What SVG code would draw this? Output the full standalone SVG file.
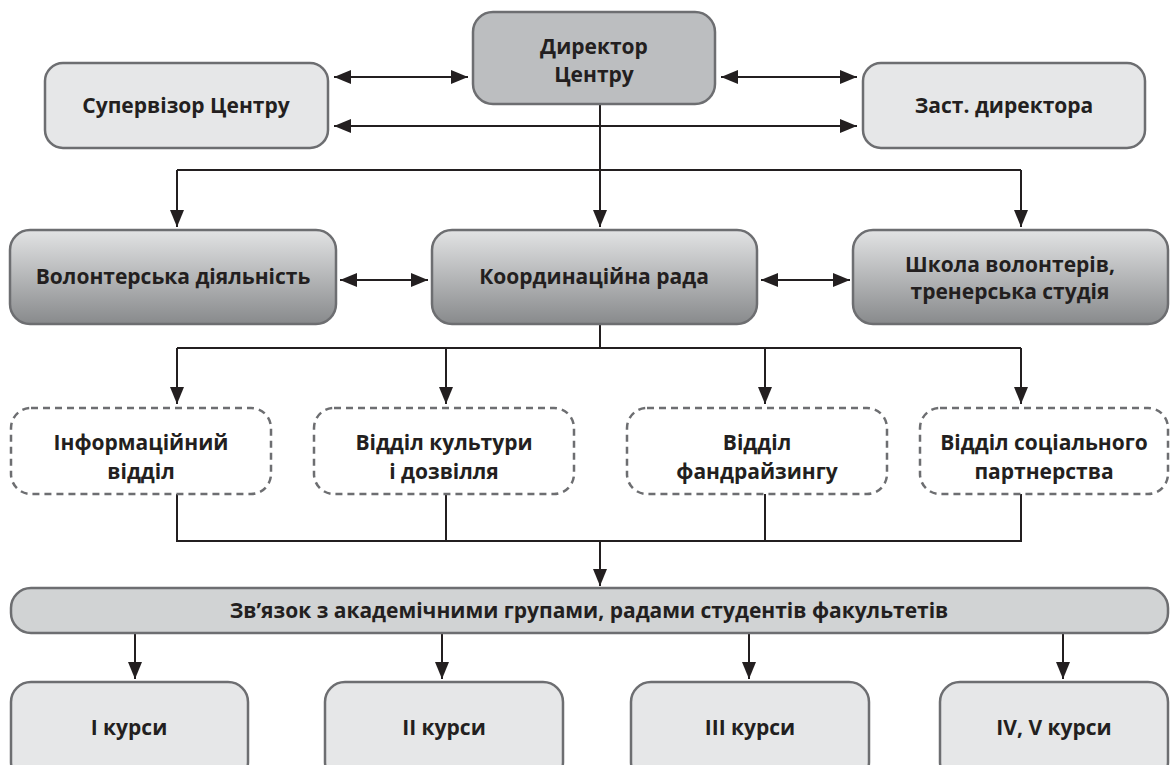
<svg xmlns="http://www.w3.org/2000/svg" width="1170" height="765" viewBox="0 0 1170 765">
<style>
  .box { stroke: #6d6e71; stroke-width: 2.5; }
  .light { fill: #e6e7e8; }
  .dark { fill: #bcbec0; }
  .grad { fill: url(#g2); }
  .dash { fill: #ffffff; stroke-dasharray: 7 5; }
  .bar { fill: #d1d3d4; }
  .t { font-family: "Open Sans", "Noto Sans", "Liberation Sans", sans-serif; font-weight: 700; font-size: 21px; fill: #231f20; text-anchor: middle; }
  .c { stroke: #231f20; stroke-width: 2; fill: none; }
  .a { marker-end: url(#ah); }
  .aa { marker-start: url(#ah); marker-end: url(#ah); }
</style>
<defs>
  <linearGradient id="g2" x1="0" y1="0" x2="0" y2="1">
    <stop offset="0" stop-color="#e2e3e4"/>
    <stop offset="1" stop-color="#888a8c"/>
  </linearGradient>
  <marker id="ah" markerUnits="userSpaceOnUse" markerWidth="17" markerHeight="14" refX="17" refY="7" orient="auto-start-reverse">
    <path d="M0,0 L17,7 L0,14 z" fill="#231f20"/>
  </marker>
</defs>
<rect width="1170" height="765" fill="#ffffff"/>

<g id="connectors">
  <path class="c aa" d="M334,77 H468"/>
  <path class="c aa" d="M721,77 H857"/>
  <path class="c aa" d="M334,126 H857"/>
  <path class="c a" d="M600,104 V227"/>
  <path class="c" d="M177,170 H1021"/>
  <path class="c a" d="M177,170 V227"/>
  <path class="c a" d="M1021,170 V227"/>
  <path class="c aa" d="M340,280 H428"/>
  <path class="c aa" d="M761,280 H850"/>
  <path class="c" d="M600,324 V348"/>
  <path class="c" d="M177,348 H1021"/>
  <path class="c a" d="M177,348 V404"/>
  <path class="c a" d="M446,348 V404"/>
  <path class="c a" d="M765,348 V404"/>
  <path class="c a" d="M1021,348 V404"/>
  <path class="c" d="M177,494 V541 H1021 V494"/>
  <path class="c" d="M446,494 V541"/>
  <path class="c" d="M765,494 V541"/>
  <path class="c a" d="M600,541 V586"/>
  <path class="c a" d="M135,633 V679"/>
  <path class="c a" d="M442,633 V679"/>
  <path class="c a" d="M749,633 V679"/>
  <path class="c a" d="M1063,633 V679"/>
</g>

<g id="director">
  <rect class="box dark" x="473" y="12" width="242" height="92" rx="20"/>
  <text class="t" x="594" y="54">Директор</text>
  <text class="t" x="594" y="82">Центру</text>
</g>
<g id="supervisor">
  <rect class="box light" x="45" y="63" width="283" height="85" rx="18"/>
  <text class="t" x="186" y="113">Супервізор Центру</text>
</g>
<g id="deputy">
  <rect class="box light" x="863" y="63" width="282" height="85" rx="18"/>
  <text class="t" x="1004" y="113">Заст. директора</text>
</g>

<g id="volunteer">
  <rect class="box grad" x="10" y="230" width="326" height="94" rx="20"/>
  <text class="t" x="173" y="284">Волонтерська діяльність</text>
</g>
<g id="council">
  <rect class="box grad" x="432" y="230" width="325" height="94" rx="20"/>
  <text class="t" x="594" y="284">Координаційна рада</text>
</g>
<g id="school">
  <rect class="box grad" x="853" y="230" width="315" height="94" rx="20"/>
  <text class="t" x="1010" y="272">Школа волонтерів,</text>
  <text class="t" x="1010" y="299">тренерська студія</text>
</g>

<g id="info">
  <rect class="box dash" x="11" y="408" width="260" height="86" rx="20"/>
  <text class="t" x="141" y="450">Інформаційний</text>
  <text class="t" x="141" y="479">відділ</text>
</g>
<g id="culture">
  <rect class="box dash" x="314" y="408" width="260" height="86" rx="20"/>
  <text class="t" x="444" y="450">Відділ культури</text>
  <text class="t" x="444" y="479">і дозвілля</text>
</g>
<g id="fundraising">
  <rect class="box dash" x="627" y="408" width="260" height="86" rx="20"/>
  <text class="t" x="757" y="450">Відділ</text>
  <text class="t" x="757" y="479">фандрайзингу</text>
</g>
<g id="social">
  <rect class="box dash" x="920" y="408" width="248" height="86" rx="20"/>
  <text class="t" x="1044" y="450">Відділ соціального</text>
  <text class="t" x="1044" y="479">партнерства</text>
</g>

<g id="liaison">
  <rect class="box bar" x="11" y="588" width="1157" height="45" rx="20"/>
  <text class="t" x="589" y="618">Зв’язок з академічними групами, радами студентів факультетів</text>
</g>

<g id="course1">
  <rect class="box light" x="11" y="682" width="237" height="100" rx="20"/>
  <text class="t" x="129" y="735">І курси</text>
</g>
<g id="course2">
  <rect class="box light" x="325" y="682" width="238" height="100" rx="20"/>
  <text class="t" x="444" y="735">ІІ курси</text>
</g>
<g id="course3">
  <rect class="box light" x="631" y="682" width="238" height="100" rx="20"/>
  <text class="t" x="750" y="735">ІІІ курси</text>
</g>
<g id="course45">
  <rect class="box light" x="940" y="682" width="228" height="100" rx="20"/>
  <text class="t" x="1054" y="735">IV, V курси</text>
</g>
</svg>
